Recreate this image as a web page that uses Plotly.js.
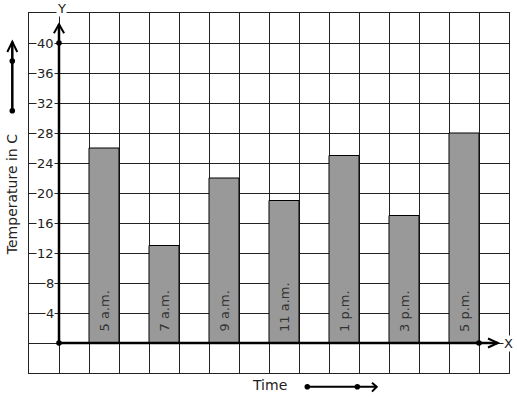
<!DOCTYPE html>
<html><head><meta charset="utf-8">
<script src="https://cdn.plot.ly/plotly-3.0.1.min.js"></script>
<style>html,body{margin:0;padding:0;background:#fff;overflow:hidden}</style>
</head><body>
<div id="chart" style="width:517px;height:399px"></div>
<script>
// ---- data ----
const times = ['5 a.m.', '7 a.m.', '9 a.m.', '11 a.m.', '1 p.m.', '3 p.m.', '5 p.m.'];
const temps = [26, 13, 22, 19, 25, 17, 28];
const yTickVals = [4, 8, 12, 16, 20, 24, 28, 32, 36, 40];
const yTickText = ['4', '8', '12', '16', '20', '24', '28', '32', '36', '40'];
const xTitle = 'Time';
const yTitle = 'Temperature in C';

// ---- layout helpers ----
const FONT = 'DejaVu Sans, sans-serif';
const INK = '#222';
// one bar in every other grid column, starting at column 1
const barX = times.map((_, i) => 1.5 + 2 * i);
const lastBarRight = barX[barX.length - 1] + 0.5;

const trace = {
  type: 'bar',
  x: barX,
  y: temps,
  width: 1,
  marker: {color: '#999999', line: {color: '#000', width: 1}},
  hoverinfo: 'none'
};

const lineStyle = (w) => ({color: '#000', width: w});
const shapes = [
  // y axis with open arrow
  {type: 'line', xref: 'x', yref: 'y', x0: 0, x1: 0, y0: 0, y1: 42.5, line: lineStyle(2.5), layer: 'above'},
  {type: 'path', xref: 'x', yref: 'y', path: 'M -0.17,41.3 L 0,42.5 L 0.17,41.3', line: lineStyle(2), layer: 'above'},
  // x axis with open arrow
  {type: 'line', xref: 'x', yref: 'y', x0: 0, x1: 14.63, y0: 0, y1: 0, line: lineStyle(2.5), layer: 'above'},
  {type: 'path', xref: 'x', yref: 'y', path: 'M 14.3,0.6 L 14.63,0 L 14.3,-0.6', line: lineStyle(2), layer: 'above'},
  // left-side direction arrow
  {type: 'line', xref: 'paper', yref: 'paper', x0: -0.0348, x1: -0.0348, y0: 0.7286, y1: 0.9203, line: lineStyle(2.5)},
  {type: 'path', xref: 'paper', yref: 'paper', path: 'M -0.0452,0.8917 L -0.0348,0.9203 L -0.0244,0.8917', line: lineStyle(2)},
  // bottom direction arrow
  {type: 'line', xref: 'paper', yref: 'paper', x0: 0.5798, x1: 0.7244, y0: -0.0381, y1: -0.0381, line: lineStyle(2)},
  {type: 'path', xref: 'paper', yref: 'paper', path: 'M 0.7146,-0.0269 L 0.7244,-0.0381 L 0.7146,-0.0519', line: lineStyle(2)}
];
function dot(xref, yref, x, y) {
  return {type: 'circle', xref: xref, yref: yref, xsizemode: 'pixel', ysizemode: 'pixel',
    xanchor: x, yanchor: y, x0: -2.8, x1: 2.8, y0: -2.8, y1: 2.8,
    fillcolor: '#000', line: {color: '#000', width: 0}, layer: 'above'};
}
shapes.push(dot('x', 'y', 0, 0));
shapes.push(dot('x', 'y', 0, yTickVals[yTickVals.length - 1]));
shapes.push(dot('x', 'y', lastBarRight, 0));
shapes.push(dot('paper', 'paper', -0.0348, 0.7286));
shapes.push(dot('paper', 'paper', -0.0348, 0.8667));
shapes.push(dot('paper', 'paper', 0.5798, -0.0381));
shapes.push(dot('paper', 'paper', 0.684, -0.0381));

const annotations = yTickVals.map((v, i) => ({
  xref: 'x', yref: 'y', x: 0, y: v, text: yTickText[i], showarrow: false,
  xanchor: 'right', yanchor: 'middle', xshift: -4,
  font: {family: FONT, size: 13, color: INK}, bgcolor: '#fff', borderpad: 0
}));
// time labels inside the bars, reading upward from near the base
times.forEach((t, i) => annotations.push({
  xref: 'x', yref: 'y', x: barX[i], y: 0, text: t, showarrow: false, textangle: -90,
  xanchor: 'center', yanchor: 'bottom', yshift: 9,
  font: {family: FONT, size: 13, color: '#333'}
}));
annotations.push({xref: 'x', yref: 'paper', x: 0, y: 1.0125, xshift: 2, text: 'Y', showarrow: false,
  xanchor: 'center', yanchor: 'middle',
  font: {family: FONT, size: 13, color: INK}, bgcolor: '#fff', borderpad: 0});
annotations.push({xref: 'x', yref: 'y', x: 14.97, y: 0, text: 'X', showarrow: false,
  xanchor: 'center', yanchor: 'middle',
  font: {family: FONT, size: 13, color: INK}, bgcolor: '#fff', borderpad: 0});
annotations.push({xref: 'paper', yref: 'paper', x: -0.0354, y: 0.494, text: yTitle, textangle: -90,
  xanchor: 'center', yanchor: 'middle',
  showarrow: false, font: {family: FONT, size: 14, color: INK}});
annotations.push({xref: 'paper', yref: 'paper', x: 0.5, y: -0.0333, text: xTitle,
  xanchor: 'center', yanchor: 'middle',
  showarrow: false, font: {family: FONT, size: 14, color: INK}});

const axisCommon = {
  showgrid: true, gridcolor: INK, gridwidth: 1, zeroline: false,
  showticklabels: false, ticks: '', showline: true, mirror: true,
  linecolor: INK, linewidth: 1, fixedrange: true
};
const layout = {
  width: 517, height: 399,
  margin: {l: 29, r: 8, t: 13, b: 26, pad: 0},
  paper_bgcolor: '#fff', plot_bgcolor: '#fff',
  showlegend: false,
  font: {family: FONT, color: INK},
  xaxis: Object.assign({range: [-1, 15], dtick: 1, tick0: 0}, axisCommon),
  yaxis: Object.assign({range: [-4, 44], dtick: 4, tick0: 0}, axisCommon),
  shapes: shapes,
  annotations: annotations
};
Plotly.newPlot('chart', [trace], layout, {staticPlot: true, displayModeBar: false});
</script>
</body></html>
